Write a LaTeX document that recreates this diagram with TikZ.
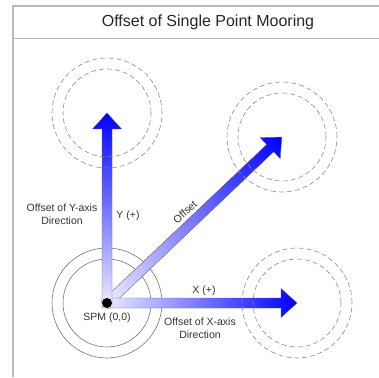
\documentclass[tikz,border=0pt]{standalone}
\usepackage{fontspec}
\setmainfont{Liberation Sans}
\begin{document}
\begin{tikzpicture}[x=1pt,y=1pt,
  frameline/.style={draw=black!27, line width=1.3pt},
  ring/.style={draw=black!55, line width=0.6pt},
  dring/.style={draw=black!45, line width=0.6pt, dash pattern=on 5pt off 3pt},
  bigarrow/.style={draw=black!60, line width=0.4pt, left color=blue!6, right color=blue},
  lab/.style={font=\fontsize{10.5}{12.5}\selectfont, text=black!80, align=center, inner sep=0pt},
]
\useasboundingbox (0,0) rectangle (379,377);
\coordinate (tl) at (13,371); \coordinate (tr) at (379,371);
\coordinate (sl) at (13,338.5); \coordinate (sr) at (379,338.5);
\coordinate (bl) at (13,0);
\draw[frameline] (tr) -- (tl) -- (bl);
\draw[frameline] (sl) -- (sr);
\node[font=\fontsize{16}{19}\selectfont, text=black!85] (title) at (208,355) {Offset of Single Point Mooring};

\coordinate (spm) at (107,74);
\coordinate (ytip) at (107,264);
\coordinate (dtip) at (282,240);
\coordinate (xtip) at (297,74);

\draw[ring] (spm) circle[radius=55];
\draw[ring] (spm) circle[radius=44];

\begin{scope}[transform canvas={rotate around={43.5:(spm)}}, shift={(spm)}]
  \shade[bigarrow] (-3,-5) -- (225,-5) -- (225,-14.5) -- (241,0) -- (225,14.5) -- (225,5) -- (-3,5) -- cycle;
\end{scope}
\begin{scope}[shift={(spm)}]
  \shade[bigarrow] (-5,-5) -- (174,-5) -- (174,-14.5) -- (190,0) -- (174,14.5) -- (174,5) -- (-5,5) -- cycle;
\end{scope}
\begin{scope}[transform canvas={rotate around={90:(spm)}}, shift={(spm)}]
  \shade[bigarrow] (-5,-5) -- (174,-5) -- (174,-14.5) -- (190,0) -- (174,14.5) -- (174,5) -- (-5,5) -- cycle;
\end{scope}

\node[circle, fill=black, minimum size=10pt, inner sep=0pt] (dot) at (spm) {};

\draw[dring] (ytip) circle[radius=55];
\draw[dring] (ytip) circle[radius=44];
\draw[dring] (dtip) circle[radius=55];
\draw[dring] (dtip) circle[radius=44];
\draw[dring] (xtip) circle[radius=55];
\draw[dring] (xtip) circle[radius=44];

\node[lab] (ylab) at (62,163) {Offset of Y-axis\\Direction};
\node[lab] (yplus) at (128,161) {Y (+)};
\node[lab, rotate=43.5] (olab) at (185,165) {Offset};
\node[lab] (xplus) at (204,86) {X (+)};
\node[lab] (spmlab) at (107,59) {SPM (0,0)};
\node[lab] (xlab) at (200,49) {Offset of X-axis\\Direction};
\end{tikzpicture}
\end{document}
